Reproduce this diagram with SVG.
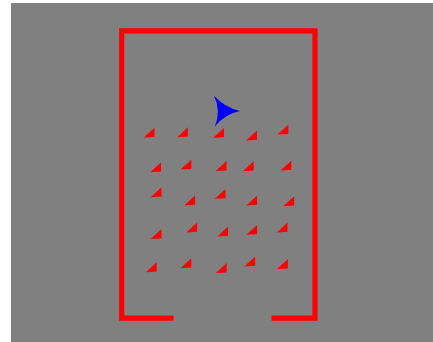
<svg xmlns="http://www.w3.org/2000/svg" width="433" height="342" viewBox="0 0 433 342">
<defs>
<style>
.frame{fill:none;stroke:#ff0000;stroke-width:5.2;stroke-linejoin:miter}
.tri{fill:#ff0000}
</style>
<path id="t" d="M-0.3,9.6 L10.5,-0.3 L10.5,9 Z"/>
</defs>
<rect x="0" y="0" width="433" height="342" fill="#ffffff"/>
<rect x="11" y="3" width="422" height="339" fill="#808080"/>
<g id="room">
<path class="frame" d="M173.5,318.2 H121.7 V30.8 H315 V318.2 H271.5"/>
</g>
<g id="agent">
<path fill="#0000ff" d="M213.8,95.6 Q224.5,107.5 240,111 Q225.8,113.5 214.8,126.4 Q221.5,111 213.8,95.6 Z"/>
</g>
<g id="targets" class="tri">
<use href="#t" x="144" y="128"/>
<use href="#t" x="177.4" y="127.6"/>
<use href="#t" x="213.5" y="128.2"/>
<use href="#t" x="246.5" y="130.8"/>
<use href="#t" x="277.8" y="125"/>

<use href="#t" x="150.6" y="162.6"/>
<use href="#t" x="180.8" y="160"/>
<use href="#t" x="216" y="161.4"/>
<use href="#t" x="243.2" y="161.6"/>
<use href="#t" x="280.8" y="160.8"/>

<use href="#t" x="151" y="187.6"/>
<use href="#t" x="184.6" y="195.8"/>
<use href="#t" x="215" y="189.2"/>
<use href="#t" x="246.6" y="195.8"/>
<use href="#t" x="283.6" y="196.6"/>

<use href="#t" x="151" y="229.4"/>
<use href="#t" x="186.6" y="222.8"/>
<use href="#t" x="217.6" y="226.8"/>
<use href="#t" x="246.6" y="225.2"/>
<use href="#t" x="277" y="222.8"/>

<use href="#t" x="146.2" y="262.6"/>
<use href="#t" x="180.8" y="258.6"/>
<use href="#t" x="216.2" y="263.4"/>
<use href="#t" x="244.6" y="256.8"/>
<use href="#t" x="277.4" y="259.4"/>
</g>
</svg>
